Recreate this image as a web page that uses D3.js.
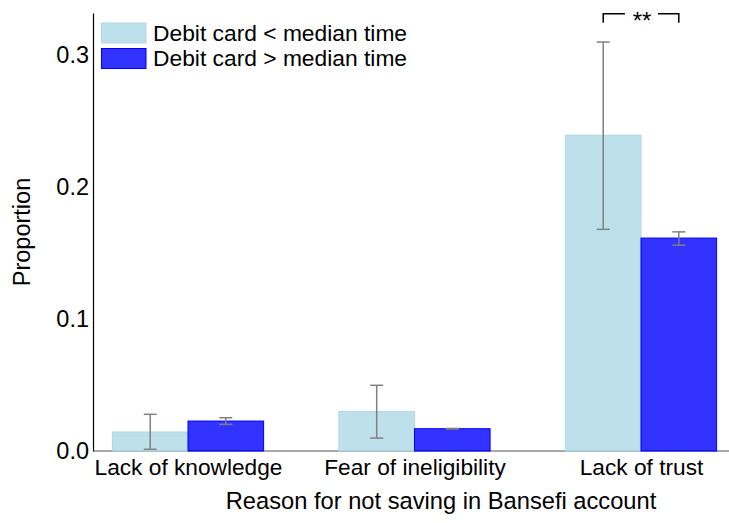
<!DOCTYPE html>
<html><head><meta charset="utf-8">
<script src="https://cdn.jsdelivr.net/npm/d3@7"></script>
<style>body{margin:0;background:#fff}svg{display:block}text{font-family:"Liberation Sans",Arial,sans-serif;fill:#000}</style>
</head><body><svg id="c" width="729" height="523"></svg>
<script>
const categories = ["Lack of knowledge", "Fear of ineligibility", "Lack of trust"];
const seriesNames = ["Debit card < median time", "Debit card > median time"];
const belowMedian = [0.0144, 0.0300, 0.2394];
const belowLow = [0.0013, 0.0098, 0.1680];
const belowHigh = [0.0278, 0.0498, 0.3100];
const aboveMedian = [0.0227, 0.0169, 0.1614];
const aboveLow = [0.0202, 0.0167, 0.1560];
const aboveHigh = [0.0252, 0.0171, 0.1661];
const yTicks = [0.0, 0.1, 0.2, 0.3];
const sigLabel = "**";

const svg = d3.select("#c");
const y = d3.scaleLinear().domain([0, 0.332]).range([451, 13]);
const xc = d3.scalePoint().domain(categories).range([188, 641]);
const bw = 75.6;
const fills = ["rgba(173,216,230,0.8)", "rgba(0,0,255,0.8)"];
const strokes = ["#add8e6", "#0000ff"];

const series = [
  {vals: belowMedian, lo: belowLow, hi: belowHigh, off: -1},
  {vals: aboveMedian, lo: aboveLow, hi: aboveHigh, off: 0}
];

// axes
const yAxis = d3.axisLeft(y).tickValues(yTicks).tickFormat(d3.format(".1f")).tickSize(0).tickPadding(4);
const ga = svg.append("g").attr("transform", "translate(93,0)").call(yAxis);
ga.select(".domain").attr("stroke", "#000").attr("stroke-width", 1.2);
ga.selectAll("text").style("font-size", "23.5px").attr("font-family", null);

const xAxis = d3.axisBottom(xc).tickSize(0).tickPadding(8);
const gx = svg.append("g").attr("transform", "translate(0,451)").call(xAxis);
gx.select(".domain").remove();
gx.selectAll("text").style("font-size", "22.7px").attr("font-family", null);
svg.append("line").attr("x1", 93).attr("x2", 729).attr("y1", 451).attr("y2", 451).attr("stroke", "#555").attr("stroke-width", 1.2);

// bars
series.forEach((s, si) => {
  svg.append("g").selectAll("rect").data(categories).join("rect")
    .attr("x", (d) => xc(d) + s.off * bw)
    .attr("y", (d, i) => y(s.vals[i]))
    .attr("width", bw)
    .attr("height", (d, i) => y(0) - y(s.vals[i]))
    .attr("fill", fills[si]).attr("stroke", strokes[si]).attr("stroke-width", 1);
});
series.forEach((s, si) => {
  const g = svg.append("g").attr("stroke", "#808080").attr("stroke-width", 1.5);
  categories.forEach((d, i) => {
    const cx = xc(d) + s.off * bw + bw / 2;
    g.append("line").attr("x1", cx).attr("x2", cx).attr("y1", y(s.lo[i])).attr("y2", y(s.hi[i]));
    [s.lo[i], s.hi[i]].forEach(v => g.append("line").attr("x1", cx - 6.5).attr("x2", cx + 6.5).attr("y1", y(v)).attr("y2", y(v)));
  });
});

// significance bracket
const bc = xc(categories[2]);
const bx1 = bc - bw / 2, bx2 = bc + bw / 2;
svg.append("path").attr("d", `M${bx1},22.7V13.7H${bc - 16}M${bc + 17},13.7H${bx2}V22.7`)
  .attr("fill", "none").attr("stroke", "#000").attr("stroke-width", 1.5);
svg.append("text").attr("x", bc + 1).attr("y", 29).attr("text-anchor", "middle").style("font-size", "24px").text(sigLabel);

// axis titles
svg.append("text").attr("x", 441).attr("y", 509).attr("text-anchor", "middle").style("font-size", "23.7px").text("Reason for not saving in Bansefi account");
svg.append("text").attr("transform", "translate(30,232) rotate(-90)").attr("text-anchor", "middle").style("font-size", "23.5px").text("Proportion");

// legend
seriesNames.forEach((n, i) => {
  const ly = 23 + i * 25.5;
  svg.append("rect").attr("x", 101.5).attr("y", ly).attr("width", 44.5).attr("height", 20).attr("fill", fills[i]).attr("stroke", strokes[i]);
  svg.append("text").attr("x", 153).attr("y", ly + 17.5).style("font-size", "22.8px").text(n);
});
</script></body></html>
